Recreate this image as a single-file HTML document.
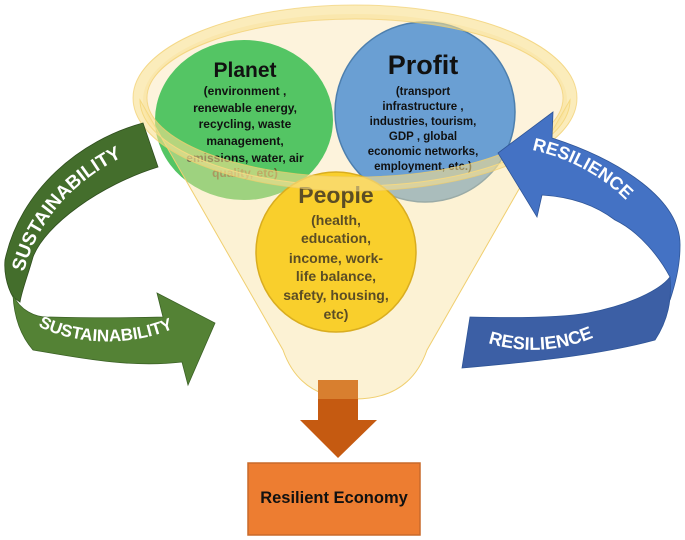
<!DOCTYPE html>
<html><head><meta charset="utf-8"><style>html,body{margin:0;padding:0;background:#fff;}svg{display:block}</style></head>
<body>
<svg width="685" height="540" viewBox="0 0 685 540" xmlns="http://www.w3.org/2000/svg" font-family="'Liberation Sans', sans-serif" font-weight="bold">
<defs>
<path id="gTop" d="M24,272 C38,215 85,167 152,145"/>
<path id="gBot" d="M38,326 C80,348 150,348 196,316"/>
<path id="bTop" d="M532,150 C580,160 625,190 645,225"/>
<path id="bBot" d="M488,343 C530,356 575,350 612,328"/>
</defs>
<ellipse cx="355" cy="100" rx="212" ry="86" fill="#fdf3dc"/>
<ellipse cx="244" cy="120" rx="89" ry="80" fill="#54c564"/>
<ellipse cx="425" cy="112" rx="90" ry="90" fill="#6a9fd3" stroke="#4d7fae" stroke-width="1.5"/>
<g text-anchor="middle" fill="#111">
<text x="245" y="77" font-size="21">Planet</text>
<g font-size="12">
<text x="245" y="95">(environment ,</text>
<text x="245" y="112">renewable energy,</text>
<text x="245" y="128">recycling, waste</text>
<text x="245" y="145">management,</text>
<text x="245" y="162">emissions, water, air</text>
<text x="245" y="177" fill="#6b5a2a">quality, etc)</text>
</g>
<text x="423" y="74" font-size="27">Profit</text>
<g font-size="11.5">
<text x="423" y="95">(transport</text>
<text x="423" y="110">infrastructure ,</text>
<text x="423" y="125">industries, tourism,</text>
<text x="423" y="140">GDP  ,  global</text>
<text x="423" y="155">economic networks,</text>
<text x="423" y="170">employment, etc.)</text>
</g>
</g>
<!-- cone overlay -->
<path d="M140,100 A215,86 0 0 0 570,100 L427,350 Q410,399 355,399 Q300,399 283,350 Z" fill="#f8e2a0" fill-opacity="0.45" stroke="#f0cf70" stroke-width="1"/>
<circle cx="336" cy="252" r="80" fill="#f9cf2c" stroke="#d9ad20" stroke-width="1.5"/>
<g text-anchor="middle" fill="#5b4d25">
<text x="336" y="203" font-size="23">People</text>
<g font-size="14">
<text x="336" y="225">(health,</text>
<text x="336" y="243">education,</text>
<text x="336" y="263">income, work-</text>
<text x="336" y="281">life balance,</text>
<text x="336" y="300">safety, housing,</text>
<text x="336" y="319">etc)</text>
</g>
</g>
<ellipse cx="355" cy="98" rx="215" ry="86" fill="none" stroke="#f9df8e" stroke-width="14" stroke-opacity="0.6"/>
<ellipse cx="355" cy="98" rx="222" ry="93" fill="none" stroke="#f0cc66" stroke-width="1" stroke-opacity="0.6"/>
<ellipse cx="355" cy="98" rx="208" ry="79" fill="none" stroke="#f0cc66" stroke-width="1" stroke-opacity="0.6"/>
<path d="M318,380 H358 V420 H377 L338,458 L300,420 H318 Z" fill="#c55a11"/>
<rect x="318" y="380" width="40" height="19" fill="#e08f3c" fill-opacity="0.7"/>
<rect x="248" y="463" width="172" height="72" fill="#ed7d31" stroke="#c86a2a" stroke-width="1.5"/>
<text x="334" y="503" font-size="16.5" text-anchor="middle" fill="#111">Resilient Economy</text>
<!-- green arrow -->
<path d="M143,123 L158,167 C100,185 45,225 33,257 C28,275 22,290 20,302 L13,297 C6,285 4,270 5,260 C20,190 80,140 143,123 Z" fill="#446e2c" stroke="#2f4e1e" stroke-width="0.8"/>
<path d="M13,295 C20,310 35,318 50,317 C90,318 130,318 163,317 L157,293 L215,323 L188,385 L182,362 C130,368 80,358 33,350 C20,335 14,315 13,295 Z" fill="#548235" stroke="#3c6226" stroke-width="0.8"/>
<g fill="#fff" font-size="19">
<text><textPath href="#gTop">SUSTAINABILITY</textPath></text>
</g>
<g fill="#fff" font-size="17">
<text><textPath href="#gBot">SUSTAINABILITY</textPath></text>
</g>
<!-- blue arrow -->
<path d="M553,112 L552,138 C620,160 682,200 680,247 C680,265 675,285 670,300 L670,277 C660,258 640,232 615,220 C595,205 572,197 542,195 L537,217 L498,153 Z" fill="#4472c4" stroke="#2f5597" stroke-width="0.8"/>
<path d="M670,277 C672,300 668,320 655,340 C600,355 530,362 462,368 L470,317 C510,318 560,318 588,313 C630,305 660,290 670,277 Z" fill="#3c5fa5" stroke="#2f5597" stroke-width="0.8"/>
<g fill="#fff" font-size="18">
<text><textPath href="#bTop">RESILIENCE</textPath></text>
<text><textPath href="#bBot">RESILIENCE</textPath></text>
</g>
</svg>
</body></html>
